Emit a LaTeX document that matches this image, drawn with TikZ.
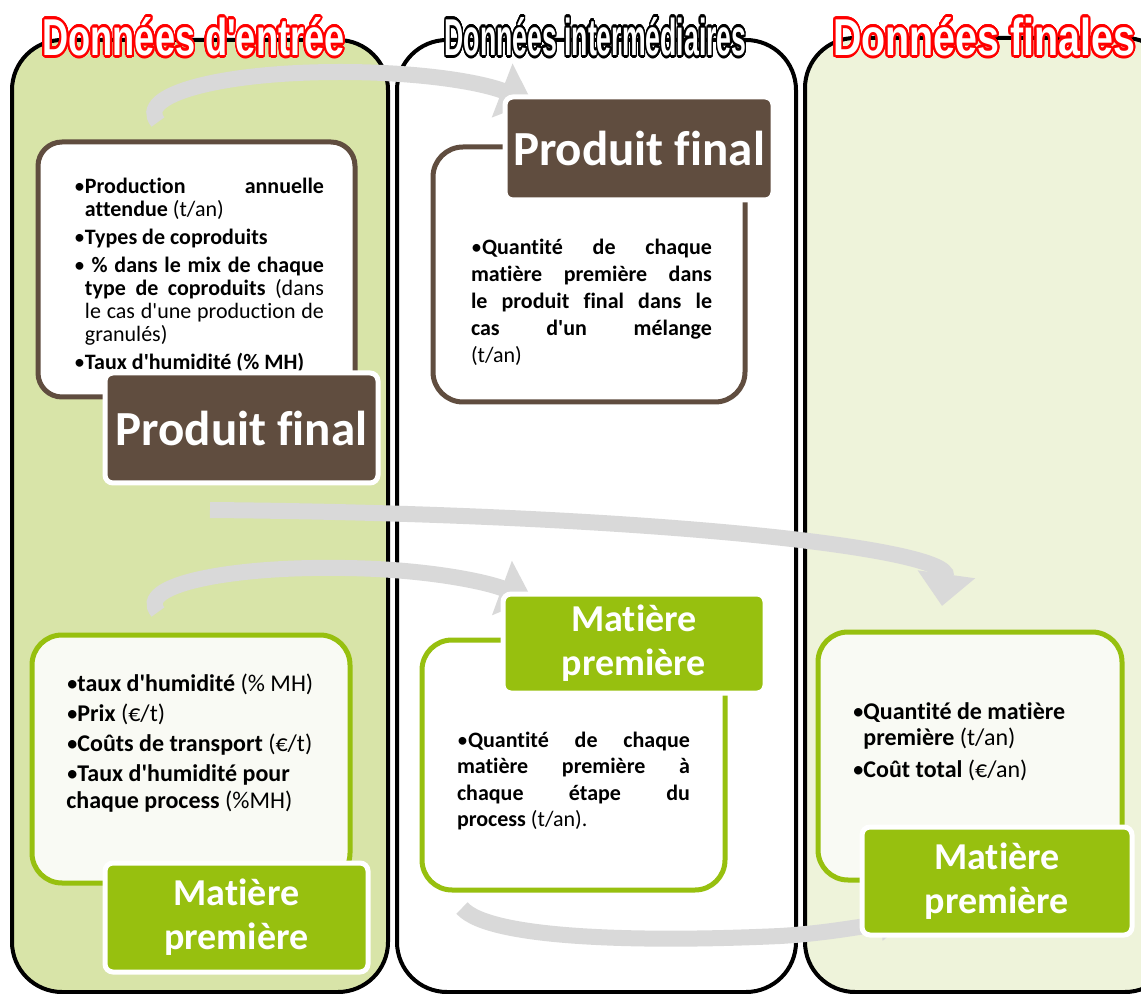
\documentclass[tikz,border=0pt]{standalone}
\usepackage{fontspec}
\setmainfont{Carlito}[Ligatures={TeXOff,CommonOff}]
\newfontfamily\titrefont{Liberation Sans}[Ligatures=TeXOff]
\usepackage{contour}
\contourlength{1.2pt}
\contournumber{32}
\usetikzlibrary{positioning,arrows.meta}

\definecolor{colin}{HTML}{D8E4A8}
\definecolor{colout}{HTML}{EEF3DA}
\definecolor{brun}{HTML}{604D3F}
\definecolor{vert}{HTML}{97C00F}
\definecolor{gris}{HTML}{D9D9D9}
\definecolor{creme}{HTML}{F9FAF4}

\newcommand{\puce}[1]{\par\hangindent=5.5pt\hangafter=1\noindent\makebox[5.5pt][l]{\textbullet}#1}
\newcommand{\titre}[2]{\resizebox{151pt}{19pt}{\titrefont\bfseries\fontsize{24}{24}\selectfont\color{white}\contour{#1}{#2}}}
\hyphenpenalty=10000
\exhyphenpenalty=10000

\begin{document}
\begin{tikzpicture}[x=0.5pt,y=-0.5pt,
      colonne/.style={line width=2pt,rounded corners=25pt},
      cadre/.style={rectangle,line width=2.5pt,inner sep=0pt},
      etiq/.style={rectangle,rounded corners=4pt,draw=white,line width=2.5pt,text=white,align=center,inner sep=0pt},
      liste/.style={inner sep=0pt,text width=#1,execute at begin node={\setlength{\parskip}{2.5pt}}},
      fleche/.style={draw=gris,line width=8pt,-{Triangle[width=28pt,length=16pt]}}
      ]
      \useasboundingbox (0,0) rectangle (1141,994);
      \fill[white] (0,0) rectangle (1141,994);
      % colonnes
      \draw[colonne,fill=colin] (12,40) rectangle (388,992);
      \draw[colonne,fill=white] (397,40) rectangle (796,992);
      \draw[colonne,fill=colout] (805,38) rectangle (1175,992);
      % fleches
      \coordinate (d1) at (158,122);
      \coordinate (f1) at (532,102);
      \coordinate (d2) at (158,612);
      \coordinate (f2) at (532,599);
      \coordinate (d3) at (210,510);
      \coordinate (f3) at (942,606);
      \coordinate (d4) at (462,908);
      \coordinate (f4) at (905,922);
      \draw[fleche] (d1) .. controls (135,95) and (220,72) .. (340,72) .. controls (420,72) and (480,82) .. (f1);
      \draw[fleche] (d2) .. controls (135,585) and (230,566) .. (345,568) .. controls (420,569) and (480,580) .. (f2);
      \draw[fleche] (d3) .. controls (650,514) and (950,548) .. (f3);
      \draw[fleche,-{Triangle[width=16pt,length=12pt]}] (d4) .. controls (490,940) and (650,942) .. (780,936) .. controls (830,933) and (860,926) .. (f4);
      % donnees d'entree
      \node (pfbox) [cadre,rounded corners=12pt,draw=brun,fill=white,minimum width=158.5pt,minimum height=127.5pt] at (196.5,269.5) {};
      \node (pftxt) [liste=125pt,align=justify,font=\fontsize{11}{11.5}\selectfont] at (199,269) {
        \puce{\textbf{Production annuelle attendue} (t/an)}
        \puce{\textbf{Types de coproduits}}
        \puce{\textbf{\ \% dans le mix de chaque type de coproduits} (dans le cas d'une production de granulés)}
        \puce{\textbf{Taux d'humidité (\% MH)}}};
      \node (pf) [etiq,fill=brun,minimum width=136.5pt,minimum height=55pt,font=\fontsize{24.5}{28}\selectfont\bfseries] at (241.5,428) {Produit final};
      \node (mpbox) [cadre,rounded corners=15pt,draw=vert,fill=creme,minimum width=159pt,minimum height=124pt] at (191,759) {};
      \node (mptxt) [liste=132pt,align=flush left,anchor=west,font=\fontsize{12}{13.5}\selectfont] at (66,737) {\setlength{\parskip}{1.5pt}%
        \puce{\textbf{taux d'humidité} (\% MH)}
        \puce{\textbf{Prix} (€/t)}
        \puce{\textbf{Coûts de transport} (€/t)}
        \puce{\textbf{Taux d'humidité pour chaque process} (\%MH)}};
      \node (mp) [etiq,fill=vert,minimum width=131.5pt,minimum height=54.5pt,font=\fontsize{19}{22}\selectfont\bfseries] at (236.5,917.5) {Matière\\première};
      % donnees intermediaires
      \node (pfibox) [cadre,rounded corners=15pt,draw=brun,fill=white,minimum width=156pt,minimum height=127.5pt] at (589,274.5) {};
      \node (pfi) [etiq,fill=brun,minimum width=134pt,minimum height=51.5pt,font=\fontsize{24.5}{28}\selectfont\bfseries] at (639,148.5) {Produit final};
      \node (pfitxt) [liste=120.5pt,align=justify,font=\fontsize{11}{13.5}\selectfont] at (591.5,294) {
        \puce{\textbf{Quantité de chaque matière première dans le produit final dans le\linebreak cas d'un mélange}\linebreak (t/an)}};
      \node (mpibox) [cadre,rounded corners=15pt,draw=vert,fill=white,minimum width=151.5pt,minimum height=125pt] at (573.5,765) {};
      \node (mpi) [etiq,fill=vert,minimum width=131pt,minimum height=49.5pt,font=\fontsize{19}{22}\selectfont\bfseries] at (634,643.5) {Matière\\première};
      \node (mpitxt) [liste=116.5pt,align=justify,font=\fontsize{11}{13.25}\selectfont] at (573.5,773) {
        \puce{\textbf{Quantité de chaque matière première à\linebreak chaque étape du\linebreak process} (t/an).}};
      % donnees finales
      \node (mpfbox) [cadre,rounded corners=15pt,draw=vert,fill=creme,minimum width=152pt,minimum height=124pt] at (970,756) {};
      \node (mpftxt) [liste=125pt,align=flush left,anchor=west,font=\fontsize{12}{13}\selectfont] at (852,734) {\setlength{\parskip}{3pt}%
        \puce{\textbf{Quantité de matière première} (t/an)}
        \puce{\textbf{Coût total} (€/an)}};
      \node (mpf) [etiq,fill=vert,minimum width=135pt,minimum height=54pt,font=\fontsize{19}{22}\selectfont\bfseries] at (997,881) {Matière\\première};
      % titres
      \node (tin) [inner sep=0pt] at (193.5,38) {\titre{red}{Données d'entrée}};
      \node (tmid) [inner sep=0pt] at (595.5,38) {\titre{black}{Données intermédiaires}};
      \node (tout) [inner sep=0pt] at (984,38) {\titre{red}{Données finales}};
    \end{tikzpicture}
\end{document}
